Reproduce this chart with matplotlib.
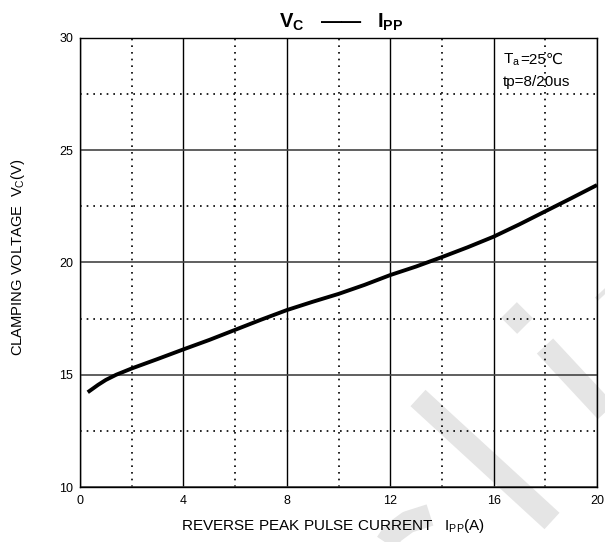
"""Vc - Ipp clamping voltage curve (datasheet style)."""
import matplotlib

matplotlib.use("Agg")
import matplotlib.pyplot as plt
from matplotlib.lines import Line2D

plt.rcParams["font.family"] = ["Liberation Sans", "DejaVu Sans"]
plt.rcParams["mathtext.fontset"] = "custom"
plt.rcParams["mathtext.rm"] = "Liberation Sans"
plt.rcParams["mathtext.it"] = "Liberation Sans:italic"
plt.rcParams["mathtext.bf"] = "Liberation Sans:bold"
plt.rcParams["axes.unicode_minus"] = False

# curve
ipp = [0.3, 0.7, 1.0, 1.4, 2, 3, 4, 5, 6, 7, 8, 9, 10, 11, 12, 13, 14, 15,
       16, 17, 18, 19, 20]
vc = [14.22, 14.55, 14.77, 15.0, 15.28, 15.7, 16.13, 16.55, 17.0, 17.45,
      17.88, 18.25, 18.6, 19.0, 19.44, 19.82, 20.24, 20.68, 21.15, 21.7,
      22.28, 22.86, 23.45]

x_ticks = [0, 4, 8, 12, 16, 20]
x_minor = [2, 6, 10, 14, 18]
y_ticks = [10, 15, 20, 25, 30]
y_minor = [12.5, 17.5, 22.5, 27.5]

W, H = 605, 542
fig = plt.figure(figsize=(W / 100, H / 100), dpi=100)
ax = fig.add_axes([80 / W, 1 - 487 / H, 517 / W, 449 / H])
ax.patch.set_facecolor("none")


def px(x, y):
    return x / W, 1 - y / H


# faint watermark strokes behind the grid
wm = "#e5e5e5"
for pts in [
    [(418, 398), (552, 521)],
    [(509, 310), (525, 326)],
    [(545, 346), (625, 432)],
    [(603, 290), (650, 340)],
    [(383, 548), (393, 533), (408, 522), (430, 515)],
]:
    xs, ys = zip(*[px(*p) for p in pts])
    fig.add_artist(Line2D(xs, ys, color=wm, lw=16, solid_capstyle="butt",
                          transform=fig.transFigure, zorder=-5))

ax.plot(ipp, vc, color="black", lw=2.8, solid_capstyle="butt",
        solid_joinstyle="round", zorder=3)

ax.set_xlim(0, 20)
ax.set_ylim(10, 30)
ax.set_xticks(x_ticks)
ax.set_xticks(x_minor, minor=True)
ax.set_yticks(y_ticks)
ax.set_yticks(y_minor, minor=True)
ax.tick_params(which="both", length=0, labelsize=9)
ax.tick_params(axis="x", pad=6)
ax.tick_params(axis="y", pad=5)

ax.xaxis.grid(True, which="major", color="black", lw=1.0)
ax.yaxis.grid(True, which="major", color="#444444", lw=1.2)
ax.grid(True, which="minor", color="black", lw=1.2, ls=(0, (1, 3)))
for s in ax.spines.values():
    s.set_linewidth(1.0)
    s.set_zorder(4)

fig.text(341 / W, 1 - 28 / H, r"$\mathbf{V_C}$   ——   $\mathbf{I_{PP}}$",
         ha="center", va="baseline", fontsize=14.5, fontweight="bold")

fig.text(333 / W, 1 - 526 / H,
         r"REVERSE PEAK PULSE CURRENT   $\mathregular{I_{PP}}$(A)",
         ha="center", va="center", fontsize=11)
fig.text(18 / W, 1 - 257 / H, r"CLAMPING VOLTAGE  $\mathregular{V_C}$(V)",
         ha="center", va="center", rotation=90, fontsize=10.6)

# test condition note
t1 = ax.text(0.818, 0.942, r"$\mathregular{T_a}$", transform=ax.transAxes,
             fontsize=11, va="baseline", ha="left")
fig.canvas.draw()
bb = t1.get_window_extent().transformed(ax.transAxes.inverted())
ax.text(bb.x1, 0.942, "=25℃", transform=ax.transAxes, fontsize=11,
        va="baseline", ha="left")
ax.text(0.818, 0.893, "tp=8/20us", transform=ax.transAxes, fontsize=11,
        va="baseline", ha="left")

fig.savefig("out.png", dpi=100)
